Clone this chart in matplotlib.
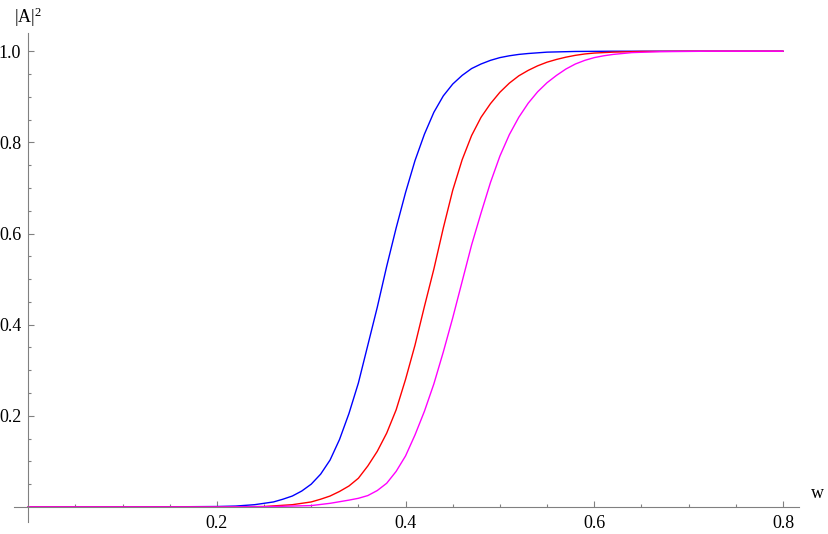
import numpy as np
import matplotlib
matplotlib.use("Agg")
import matplotlib.pyplot as plt
from matplotlib.ticker import FixedLocator

plt.rcParams['font.family'] = 'serif'
plt.rcParams['font.serif'] = ['Liberation Serif', 'DejaVu Serif']
plt.rcParams['mathtext.fontset'] = 'custom'
plt.rcParams['mathtext.rm'] = 'Liberation Serif'
plt.rcParams['mathtext.it'] = 'Liberation Serif:italic'

# values
w_blue = [0.0, 0.10, 0.15, 0.20, 0.22, 0.24, 0.26, 0.27, 0.28, 0.29, 0.30, 0.31, 0.32, 0.33,
          0.34, 0.35, 0.36, 0.37, 0.38, 0.39, 0.40, 0.41, 0.42, 0.43, 0.44, 0.45, 0.46,
          0.47, 0.48, 0.49, 0.50, 0.51, 0.52, 0.53, 0.55, 0.58, 0.62, 0.70, 0.80]
a_blue = [0.0, 0.0, 0.0003, 0.001, 0.002, 0.005, 0.011, 0.017, 0.024, 0.035, 0.050, 0.072,
          0.103, 0.148, 0.205, 0.272, 0.355, 0.438, 0.528, 0.612, 0.690, 0.760, 0.818,
          0.866, 0.902, 0.928, 0.947, 0.962, 0.972, 0.980, 0.986, 0.990, 0.993, 0.995,
          0.998, 0.9995, 1.0, 1.0, 1.0]

w_red = [0.0, 0.10, 0.20, 0.25, 0.28, 0.30, 0.31, 0.32, 0.33, 0.34, 0.35, 0.36, 0.37, 0.38,
         0.39, 0.40, 0.41, 0.42, 0.43, 0.44, 0.45, 0.46, 0.47, 0.48, 0.49, 0.50, 0.51,
         0.52, 0.53, 0.54, 0.55, 0.56, 0.57, 0.58, 0.59, 0.60, 0.62, 0.65, 0.70, 0.80]
a_red = [0.0, 0.0, 0.0, 0.001, 0.005, 0.011, 0.017, 0.024, 0.034, 0.046, 0.063, 0.090,
         0.122, 0.162, 0.213, 0.280, 0.355, 0.440, 0.522, 0.612, 0.695, 0.762, 0.815,
         0.855, 0.885, 0.910, 0.930, 0.946, 0.958, 0.968, 0.976, 0.982, 0.987, 0.991,
         0.994, 0.996, 0.998, 0.9995, 1.0, 1.0]

w_mag = [0.0, 0.10, 0.20, 0.25, 0.30, 0.32, 0.34, 0.35, 0.36, 0.37, 0.38, 0.39, 0.40, 0.41,
         0.42, 0.43, 0.44, 0.45, 0.46, 0.47, 0.48, 0.49, 0.50, 0.51, 0.52, 0.53, 0.54,
         0.55, 0.56, 0.57, 0.58, 0.59, 0.60, 0.61, 0.62, 0.64, 0.67, 0.72, 0.80]
a_mag = [0.0, 0.0, 0.0, 0.0005, 0.003, 0.008, 0.015, 0.019, 0.025, 0.036, 0.052, 0.078,
         0.112, 0.158, 0.210, 0.270, 0.340, 0.415, 0.495, 0.575, 0.645, 0.712, 0.770,
         0.817, 0.855, 0.886, 0.911, 0.931, 0.947, 0.961, 0.972, 0.980, 0.986, 0.990,
         0.993, 0.997, 0.999, 1.0, 1.0]

x_major = [0.2, 0.4, 0.6, 0.8]
y_major = [0.2, 0.4, 0.6, 0.8, 1.0]
x_minor = [0.05, 0.1, 0.15, 0.25, 0.3, 0.35, 0.45, 0.5, 0.55, 0.65, 0.7, 0.75]
y_minor = [0.05, 0.1, 0.15, 0.25, 0.3, 0.35, 0.45, 0.5, 0.55, 0.65, 0.7, 0.75, 0.85, 0.9, 0.95]

W, H = 829, 534
fig = plt.figure(figsize=(W / 100, H / 100), dpi=100)
ax = fig.add_axes([14 / W, (H - 522) / H, 785 / W, 489 / H])

ax.plot(w_blue, a_blue, color='#0000ff', lw=1.0)
ax.plot(w_red, a_red, color='#ff0000', lw=1.0)
ax.plot(w_mag, a_mag, color='#ff00ff', lw=1.0)

ax.set_xlim(-0.015, 0.817)
ax.set_ylim(-0.033, 1.04)

axis_col = '#808080'
for s in ['top', 'right']:
    ax.spines[s].set_visible(False)
ax.spines['left'].set_position(('data', 0))
ax.spines['bottom'].set_position(('data', 0))
for s in ['left', 'bottom']:
    ax.spines[s].set_color(axis_col)
    ax.spines[s].set_linewidth(0.8)

ax.xaxis.set_major_locator(FixedLocator(x_major))
ax.yaxis.set_major_locator(FixedLocator(y_major))
ax.xaxis.set_minor_locator(FixedLocator(x_minor))
ax.yaxis.set_minor_locator(FixedLocator(y_minor))
ax.set_xticklabels(['0.2', '0.4', '0.6', '0.8'])
ax.set_yticklabels(['0.2', '0.4', '0.6', '0.8', '1.0'])
ax.tick_params(which='both', direction='in', color=axis_col, width=0.8, labelsize=13,
               labelcolor='black')
ax.tick_params(which='major', length=4.5)
ax.tick_params(which='minor', length=2.4)
ax.tick_params(axis='x', pad=6)
ax.tick_params(axis='y', pad=5)

fig.text(28 / W, (H - 17) / H, r'$|\mathrm{A}|^2$', fontsize=13, ha='center', va='center')
fig.text(817 / W, (H - 494) / H, 'w', fontsize=13, ha='center', va='center')

fig.savefig('out.png', dpi=100)
